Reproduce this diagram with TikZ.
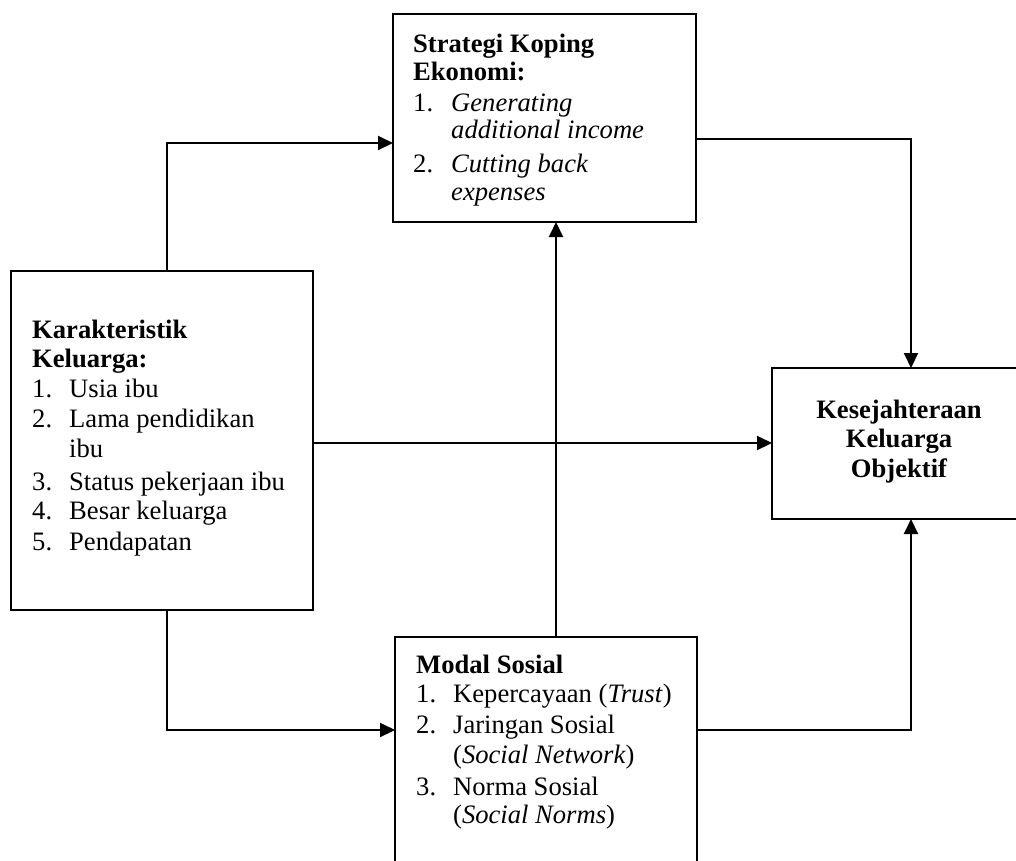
\documentclass[tikz,border=0pt]{standalone}
\usepackage{fontspec}
\setmainfont{Liberation Serif}
\usetikzlibrary{arrows.meta}
\begin{document}
\begin{tikzpicture}[x=1pt,y=-1pt,
  box/.style={draw, line width=2pt, inner sep=0pt, outer sep=0pt, anchor=north west},
  txt/.style={anchor=base west, inner sep=0pt, font=\fontsize{26.6}{30}\selectfont},
  ctr/.style={anchor=base, inner sep=0pt, font=\fontsize{26.6}{30}\selectfont\bfseries},
  arr/.style={line width=2pt, -{Triangle[length=15pt,width=14pt]}}]
\useasboundingbox (0,0) rectangle (1016,860);
\clip (0,0) rectangle (1016,860);
% boxes
\node[box, minimum width=303pt, minimum height=208pt] (sk) at (393,14) {};
\node[box, minimum width=302pt, minimum height=339pt] (kk) at (11,271) {};
\node[box, minimum width=260pt, minimum height=151pt] (kw) at (772,368) {};
\node[box, minimum width=302pt, minimum height=250pt] (ms) at (395,637) {};
% text: Strategi Koping Ekonomi
\node[txt] (sk1) at (413,52) {\bfseries Strategi Koping};
\node[txt] (sk2) at (413,80) {\bfseries Ekonomi:};
\node[txt] (sk3n) at (413,111) {1.};
\node[txt] (sk3) at (451,111) {\itshape Generating};
\node[txt] (sk4) at (451,138) {\itshape additional income};
\node[txt] (sk5n) at (413,172) {2.};
\node[txt] (sk5) at (451,172) {\itshape Cutting back};
\node[txt] (sk6) at (451,200) {\itshape expenses};
% text: Karakteristik Keluarga
\node[txt] (kk1) at (32,338) {\bfseries Karakteristik};
\node[txt] (kk2) at (32,367) {\bfseries Keluarga:};
\node[txt] (kk3n) at (32,397) {1.};
\node[txt] (kk3) at (69,397) {Usia ibu};
\node[txt] (kk4n) at (32,427) {2.};
\node[txt] (kk4) at (69,427) {Lama pendidikan};
\node[txt] (kk5) at (69,457) {ibu};
\node[txt] (kk6n) at (32,490) {3.};
\node[txt] (kk6) at (69,490) {Status pekerjaan ibu};
\node[txt] (kk7n) at (32,519) {4.};
\node[txt] (kk7) at (69,519) {Besar keluarga};
\node[txt] (kk8n) at (32,550) {5.};
\node[txt] (kk8) at (69,550) {Pendapatan};
% text: Kesejahteraan
\node[ctr] (kw1) at (899,418) {Kesejahteraan};
\node[ctr] (kw2) at (899,447) {Keluarga};
\node[ctr] (kw3) at (899,477) {Objektif};
% text: Modal Sosial
\node[txt] (ms1) at (416,673) {\bfseries Modal Sosial};
\node[txt] (ms2n) at (416,702) {1.};
\node[txt] (ms2) at (453,702) {Kepercayaan (\textit{Trust})};
\node[txt] (ms3n) at (416,733) {2.};
\node[txt] (ms3) at (453,733) {Jaringan Sosial};
\node[txt] (ms4) at (453,763) {(\textit{Social Network})};
\node[txt] (ms5n) at (416,795) {3.};
\node[txt] (ms5) at (453,795) {Norma Sosial};
\node[txt] (ms6) at (453,823) {(\textit{Social Norms})};
% routing coordinates
\coordinate (c1) at (167,143);
\coordinate (c2) at (911,139);
\coordinate (c3) at (313,443);
\coordinate (c4) at (556,0);
\coordinate (c5) at (167,730);
\coordinate (c6) at (911,730);
% connectors
\draw[arr] (kk.north -| c1) |- (sk.west |- c1);
\draw[arr] (sk.east |- c2) -| (kw.north -| c2);
\draw[arr] (kk.east |- c3) -- (kw.west |- c3);
\draw[arr] (ms.north -| c4) -- (sk.south -| c4);
\draw[arr] (kk.south -| c5) |- (ms.west |- c5);
\draw[arr] (ms.east |- c6) -| (kw.south -| c6);
\end{tikzpicture}
\end{document}
